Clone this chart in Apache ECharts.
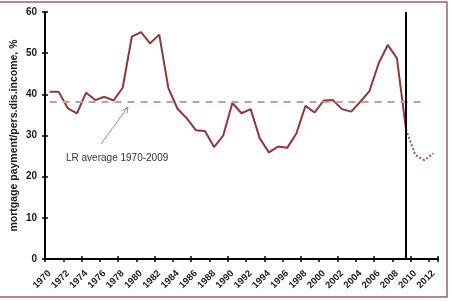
<!DOCTYPE html>
<html>
<head>
<meta charset="utf-8">
<script src="https://cdn.jsdelivr.net/npm/echarts@6/dist/echarts.min.js"></script>
<style>
html, body { margin: 0; padding: 0; background: #fff; }
#chart { width: 451px; height: 301px; }
</style>
</head>
<body>
<div id="chart"></div>
<script>
// categories 1970 - 2012
const years = ['1970','1971','1972','1973','1974','1975','1976','1977','1978','1979',
	'1980','1981','1982','1983','1984','1985','1986','1987','1988','1989',
	'1990','1991','1992','1993','1994','1995','1996','1997','1998','1999',
	'2000','2001','2002','2003','2004','2005','2006','2007','2008','2009',
	'2010','2011','2012'];

// mortgage payment / disposable income, 1970 - 2009
const actual = [40.6, 40.6, 36.6, 35.4, 40.4, 38.6, 39.4, 38.5, 41.6, 54.0,
	55.1, 52.4, 54.5, 41.5, 36.5, 34.2, 31.3, 31.1, 27.2, 30.0,
	37.9, 35.4, 36.4, 29.3, 25.9, 27.3, 27.0, 30.5, 37.2, 35.6,
	38.5, 38.6, 36.4, 35.8, 38.2, 40.8, 47.5, 52.0, 48.8, 31.5];

// forecast (dotted)
const forecastYears = ['2009', '2010', '2011', '2012'];
const forecastValues = [31.5, 25.3, 24.0, 25.7];

// long run average
const lrAverage = 38.2;
const lrFrom = '1970';
const lrTo = '2011';
const splitYear = '2009';

const yTicks = { min: 0, max: 60, interval: 10 };

var dom = document.getElementById('chart');
var myChart = echarts.init(dom);
var option;

const labelFont = {
	fontFamily: 'Liberation Sans',
	fontWeight: 'bold',
	color: '#1a1a1a'
};

option = {
	animation: false,
	grid: {
		left: 45,
		right: 13,
		top: 12,
		bottom: 42,
		containLabel: false,
		outerBoundsMode: 'none'
	},
	xAxis: [{
			type: 'category',
			data: years,
			boundaryGap: true,
			axisLine: { lineStyle: { color: '#000', width: 2 } },
			axisTick: { show: true, length: 3, lineStyle: { color: '#000', width: 1.5 } },
			axisLabel: Object.assign({
				rotate: 45,
				interval: 1,
				fontSize: 9.5,
				margin: 13
			}, labelFont),
			splitLine: { show: false }
		},
		{
			// second copy only for the ticks that go into the plot (cross ticks)
			type: 'category',
			data: years,
			position: 'bottom',
			boundaryGap: true,
			axisLine: { show: false },
			axisTick: { show: true, inside: true, length: 3, lineStyle: { color: '#000', width: 1.5 } },
			axisLabel: { show: false },
			splitLine: { show: false }
		}
	],
	yAxis: [{
			type: 'value',
			min: yTicks.min,
			max: yTicks.max,
			interval: yTicks.interval,
			name: 'mortgage payment/pers.dis.income, %',
			nameLocation: 'middle',
			nameGap: 25,
			nameMoveOverlap: false,
			nameTextStyle: Object.assign({ fontSize: 10.5 }, labelFont),
			axisLine: { show: true, lineStyle: { color: '#000', width: 2 } },
			axisTick: { show: true, length: 3, lineStyle: { color: '#000', width: 1.5 } },
			axisLabel: Object.assign({ fontSize: 10, margin: 8 }, labelFont),
			splitLine: { show: false }
		},
		{
			type: 'value',
			position: 'left',
			min: yTicks.min,
			max: yTicks.max,
			interval: yTicks.interval,
			axisLine: { show: false },
			axisTick: { show: true, inside: true, length: 3, lineStyle: { color: '#000', width: 1.5 } },
			axisLabel: { show: false },
			splitLine: { show: false }
		}
	],
	series: [{
			name: 'actual',
			type: 'line',
			data: actual,
			symbol: 'none',
			z: 3,
			lineStyle: { color: '#943634', width: 2 },
			markLine: {
				silent: true,
				symbol: 'none',
				label: { show: false },
				data: [
					[{ coord: [lrFrom, lrAverage] }, { coord: [lrTo, lrAverage] }]
				],
				lineStyle: { color: '#c79ba1', width: 2, type: [7, 6] }
			}
		},
		{
			name: 'forecast',
			type: 'line',
			data: forecastYears.map((y, i) => [y, forecastValues[i]]),
			symbol: 'none',
			lineStyle: { color: '#a0505a', width: 2, type: 'dotted' }
		},
		{
			// vertical line at last actual year
			name: 'split',
			type: 'line',
			data: [],
			markLine: {
				silent: true,
				symbol: 'none',
				label: { show: false },
				data: [{ xAxis: splitYear }],
				lineStyle: { color: '#000', width: 2, type: 'solid' }
			}
		}
	],
	graphic: [{
			type: 'rect',
			shape: { x: -2, y: 2, width: 449, height: 295 },
			style: { fill: 'none', stroke: '#a0605f', lineWidth: 1.5 }
		},
		{
			type: 'text',
			left: 66,
			top: 153,
			style: {
				text: 'LR average 1970-2009',
				fontFamily: 'Liberation Sans',
				fontSize: 10,
				fill: '#333'
			}
		},
		{
			type: 'line',
			shape: { x1: 101, y1: 144, x2: 127.5, y2: 107.5 },
			style: { stroke: '#777', lineWidth: 0.8 }
		},
		{
			type: 'polyline',
			shape: { points: [[122.3, 110.3], [128, 107], [126.9, 113.5]] },
			style: { fill: 'none', stroke: '#777', lineWidth: 0.8 }
		}
	]
};

if (option && typeof option === 'object') {
	myChart.setOption(option);
}
</script>
</body>
</html>
